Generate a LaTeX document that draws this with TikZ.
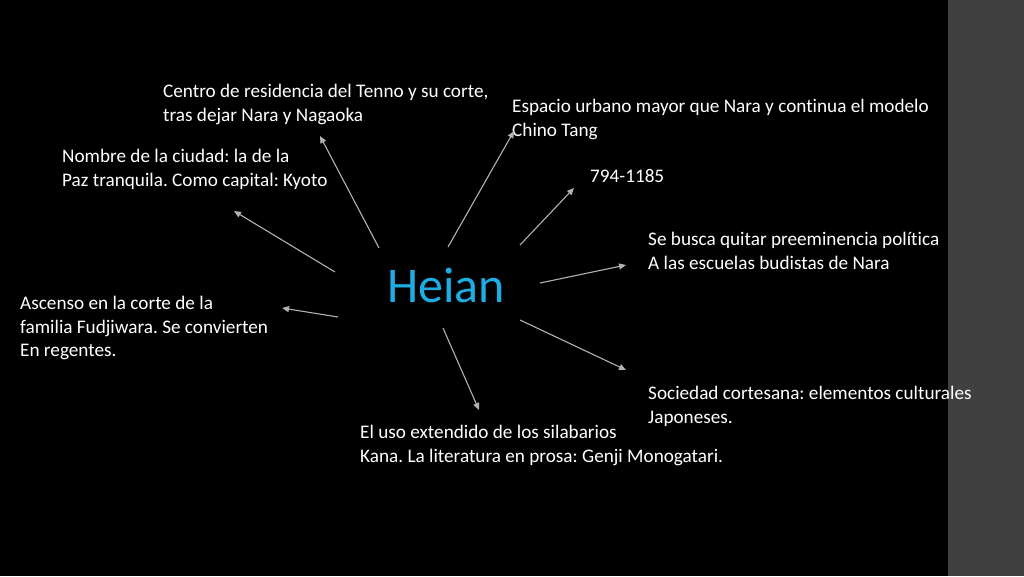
\documentclass[tikz,border=0pt]{standalone}
\usepackage{fontspec}
\setmainfont[Ligatures=NoCommon]{Carlito}
\usetikzlibrary{arrows.meta}
\definecolor{heianblue}{RGB}{28,173,228}
\definecolor{arrowgray}{RGB}{178,178,178}
\definecolor{sidegray}{RGB}{64,64,64}

\begin{document}
\frenchspacing
\begin{tikzpicture}[x=1pt,y=-1pt,
  txt/.style={anchor=north west, inner sep=0pt, align=left, text=white,
    font=\fontsize{19.2}{23.5}\selectfont},
  arr/.style={draw=arrowgray, line width=1.1pt, -{Triangle[length=7pt,width=6pt]}}]
  \fill[black] (0,0) rectangle (1024,576);
  \fill[sidegray] (948,0) rectangle (1024,576);
  \useasboundingbox (0,0) rectangle (1024,576);

  \node[anchor=base west, inner sep=0pt, text=heianblue, font=\fontsize{50}{60}\selectfont] (heian) at (387,302) {Heian};

  \node[txt] (centro) at (163,84) {Centro de residencia del Tenno y su corte,\\tras dejar Nara y Nagaoka};
  \node[txt] (nombre) at (62,149) {Nombre de la ciudad: la de la\\Paz tranquila. Como capital: Kyoto};
  \node[txt] (ascenso) at (20,296) {Ascenso en la corte de la\\familia Fudjiwara. Se convierten\\En regentes.};
  \node[txt] (espacio) at (512,99) {Espacio urbano mayor que Nara y continua el modelo\\Chino Tang};
  \node[txt] (fechas) at (590,169) {794-1185};
  \node[txt] (busca) at (648,232) {Se busca quitar preeminencia política\\A las escuelas budistas de Nara};
  \node[txt] (sociedad) at (648,386) {Sociedad cortesana: elementos culturales\\Japoneses.};
  \node[txt] (uso) at (360,425) {El uso extendido de los silabarios\\Kana. La literatura en prosa: Genji Monogatari.};

  % arrow ends
  \coordinate (s1) at (379,248); \coordinate (t1) at (320,136);
  \coordinate (s2) at (335,272); \coordinate (t2) at (234,211);
  \coordinate (s3) at (338,317); \coordinate (t3) at (282,308);
  \coordinate (s4) at (448,247); \coordinate (t4) at (514,131);
  \coordinate (s5) at (520,245); \coordinate (t5) at (574,188);
  \coordinate (s6) at (540,283); \coordinate (t6) at (626,265);
  \coordinate (s7) at (520,320); \coordinate (t7) at (626,370);
  \coordinate (s8) at (443,328); \coordinate (t8) at (479,410);

  \foreach \i in {1,...,8}
    \draw[arr] (s\i) -- (t\i);
\end{tikzpicture}
\end{document}
